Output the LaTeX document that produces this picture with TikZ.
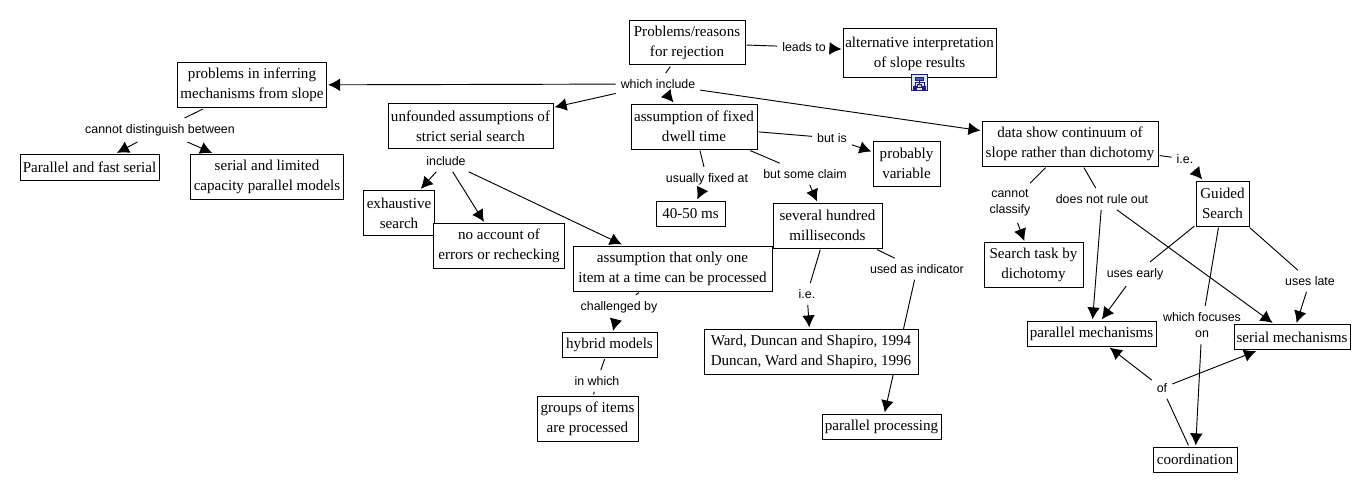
\documentclass[tikz,border=0pt]{standalone}
\usepackage{fontspec}
\setmainfont{Liberation Serif}
\newfontfamily\linkfont{Liberation Sans}
\usetikzlibrary{arrows.meta,backgrounds}
\definecolor{iconblue}{RGB}{30,30,120}
\definecolor{iconfill}{RGB}{225,230,245}
\definecolor{iconroot}{RGB}{70,90,210}
\definecolor{iconleaf}{RGB}{225,205,110}
\tikzset{
  concept/.style 2 args={draw,fill=white,line width=.75pt,align=center,inner sep=0pt,outer sep=1.2pt,
    minimum width=#1*.75pt,minimum height=#2*.75pt,font=\fontsize{11.3}{15}\selectfont},
  linkword/.style={align=center,inner xsep=3.6pt,inner ysep=4.5pt,font=\linkfont\fontsize{9.3}{12.4}\selectfont},
  link/.style={line width=.7pt},
  linkto/.style={line width=.7pt,-{Latex[length=9pt,width=9.5pt]}}
}
\begin{document}
\begin{tikzpicture}[x=.75pt,y=-.75pt]
\useasboundingbox (0,0) rectangle (1370,492);
\node[concept={116}{44}] (problems) at (687,43) {Problems/reasons\\for rejection};
\node[concept={153}{49}] (altinterp) at (919.5,53.5) {alternative interpretation\\of slope results};
\node[concept={126}{45}] (dwell) at (694,126.5) {assumption of fixed\\dwell time};
\node[concept={67}{45}] (variable) at (906.5,163.5) {probably\\variable};
\node[concept={69}{25}] (fortyms) at (690.5,213.5) {40-50 ms};
\node[concept={109}{45}] (hundred) at (827.5,225.5) {several hundred\\milliseconds};
\node[concept={149}{45}] (inferring) at (252,85) {problems in inferring\\mechanisms from slope};
\node[concept={139}{26}] (fastserial) at (89.5,167.5) {Parallel and fast serial};
\node[concept={153}{45}] (limited) at (267,177) {serial and limited\\capacity parallel models};
\node[concept={165}{45}] (unfounded) at (470.5,126) {unfounded assumptions of\\strict serial search};
\node[concept={71}{45}] (exhaustive) at (399,213) {exhaustive\\search};
\node[concept={131}{45}] (rechecking) at (499,246) {no account of\\errors or rechecking};
\node[concept={199}{45}] (oneitem) at (672.5,268.5) {assumption that only one\\item at a time can be processed};
\node[concept={95}{25}] (hybrid) at (609.5,345) {hybrid models};
\node[concept={101}{45}] (groups) at (587.5,418.5) {groups of items\\are processed};
\node[concept={214}{45}] (ward) at (811,351.5) {Ward, Duncan and Shapiro, 1994\\Duncan, Ward and Shapiro, 1996};
\node[concept={119}{25}] (parproc) at (881.5,426.5) {parallel processing};
\node[concept={176}{45}] (continuum) at (1070,143.5) {data show continuum of\\slope rather than dichotomy};
\node[concept={53}{45}] (guided) at (1222.5,203.5) {Guided\\Search};
\node[concept={99}{45}] (bydichotomy) at (1033.5,265) {Search task by\\dichotomy};
\node[concept={129}{25}] (parmech) at (1091.5,333.5) {parallel mechanisms};
\node[concept={116}{25}] (sermech) at (1292,337) {serial mechanisms};
\node[concept={84}{25}] (coordination) at (1195,459.5) {coordination};

\node[linkword] (leadsto) at (804,47) {leads to};
\node[linkword] (whichinclude) at (658,84) {which include};
\node[linkword] (butis) at (832,138) {but is};
\node[linkword] (usually) at (707,179) {usually fixed at};
\node[linkword] (someclaim) at (805,174) {but some claim};
\node[linkword] (distinguish) at (160,130) {cannot distinguish between};
\node[linkword] (include) at (446,161) {include};
\node[linkword] (challenged) at (619,307) {challenged by};
\node[linkword] (inwhich) at (597,381) {in which};
\node[linkword] (ie) at (807,294) {i.e.};
\node[linkword] (indicator) at (917,269) {used as indicator};
\node[linkword] (iesearch) at (1185,159) {i.e.};
\node[linkword] (classify) at (1010,203) {cannot\\classify};
\node[linkword] (ruleout) at (1102,199) {does not rule out};
\node[linkword] (early) at (1135,274) {uses early};
\node[linkword] (late) at (1310,281) {uses late};
\node[linkword] (focuses) at (1202,325) {which focuses\\on};
\node[linkword] (of) at (1162,388) {of};

\node[draw=iconblue,fill=iconfill,line width=.75pt,minimum width=11.5pt,minimum height=12pt,inner sep=0pt] (icon) at (919.5,83) {};
\draw[iconblue,line width=.4pt] (icon.center) +(-4.5,4) |- +(4.5,-1) -- +(4.5,4) +(0,-4) -- +(0,3);
\draw[iconblue,line width=.4pt,fill=iconroot] (icon.center) +(-4,-6) rectangle +(4,-3);
\draw[iconblue,line width=.4pt,fill=iconleaf] (icon.center) +(-2,1) rectangle +(2,4);
\draw[iconblue,line width=.4pt,fill=iconblue] (icon.center) +(-6,3) rectangle +(-3,6) +(3,3) rectangle +(6,6);

\begin{scope}[on background layer]
\draw[link] (problems) -- (whichinclude);
\draw[link] (problems) -- (leadsto);
\draw[linkto] (leadsto) -- (altinterp);
\draw[linkto] (whichinclude) -- (inferring);
\draw[linkto] (whichinclude) -- (unfounded);
\draw[linkto] (whichinclude) -- (dwell);
\draw[linkto] (whichinclude) -- (continuum);
\draw[link] (dwell) -- (butis);
\draw[linkto] (butis) -- (variable);
\draw[link] (dwell) -- (usually);
\draw[linkto] (usually) -- (fortyms);
\draw[link] (dwell) -- (someclaim);
\draw[linkto] (someclaim) -- (hundred);
\draw[link] (inferring) -- (distinguish);
\draw[linkto] (distinguish) -- (fastserial);
\draw[linkto] (distinguish) -- (limited);
\draw[link] (unfounded) -- (include);
\draw[linkto] (include) -- (exhaustive);
\draw[linkto] (include) -- (rechecking);
\draw[linkto] (include) -- (oneitem);
\draw[link] (oneitem) -- (challenged);
\draw[linkto] (challenged) -- (hybrid);
\draw[link] (hybrid) -- (inwhich);
\draw[link] (inwhich) -- (groups);
\draw[link] (hundred) -- (ie);
\draw[linkto] (ie) -- (ward);
\draw[link] (hundred) -- (indicator);
\draw[linkto] (indicator) -- (parproc);
\draw[link] (continuum) -- (iesearch);
\draw[linkto] (iesearch) -- (guided);
\draw[link] (continuum) -- (classify);
\draw[linkto] (classify) -- (bydichotomy);
\draw[link] (continuum) -- (ruleout);
\draw[linkto] (ruleout) -- (parmech);
\draw[linkto] (ruleout) -- (sermech);
\draw[link] (guided) -- (early);
\draw[linkto] (early) -- (parmech);
\draw[link] (guided) -- (late);
\draw[linkto] (late) -- (sermech);
\draw[link] (guided) -- (focuses);
\draw[linkto] (focuses) -- (coordination);
\draw[link] (coordination) -- (of);
\draw[linkto] (of) -- (parmech);
\draw[linkto] (of) -- (sermech);
\end{scope}
\end{tikzpicture}
\end{document}
